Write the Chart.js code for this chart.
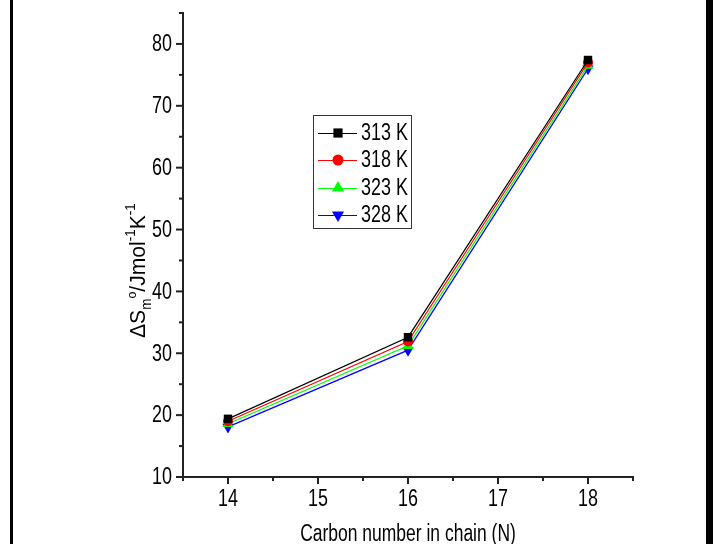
<!DOCTYPE html>
<html>
<head>
<meta charset="utf-8">
<script src="https://cdn.jsdelivr.net/npm/chart.js@4.4.0/dist/chart.umd.min.js"></script>
<style>
  html, body { margin: 0; padding: 0; background: #fff; }
  #wrap { width: 713px; height: 544px; }
</style>
</head>
<body>
<div id="wrap"><canvas id="grafentropia" width="713" height="544"></canvas></div>
<script>
// carbon number vs. entropy of micellization at four temperatures
var carbonNumbers = [14, 16, 18];
var temperaturas = ["313 K", "318 K", "323 K", "328 K"];
var s313 = [19.4, 32.6, 77.4];
var s318 = [19.0, 31.9, 77.0];
var s323 = [18.6, 31.2, 76.5];
var s328 = [18.1, 30.5, 76.0];

var xTicks = [14, 15, 16, 17, 18];
var yTicks = [10, 20, 30, 40, 50, 60, 70, 80];

var FONT = "'Liberation Sans', Arial, sans-serif";

var colores = ["#000000", "#ff0000", "#00ff00", "#0000ff"];
var estilos = ["rect", "circle", "triangle", "triangle"];
var rotaciones = [0, 0, 0, 180];
var radios = [6, 5, 6.5, 6.5];
var series = [s313, s318, s323, s328];

var datasets = [];
for (var i in series){
    var pts = [];
    for (var j in carbonNumbers){
        pts.push({x: carbonNumbers[j], y: series[i][j]});
    }
    datasets.push({
        label: temperaturas[i],
        data: pts,
        borderColor: colores[i],
        backgroundColor: colores[i],
        borderWidth: 1.2,
        pointStyle: estilos[i],
        pointRotation: rotaciones[i],
        pointRadius: radios[i],
        pointBorderWidth: 0,
        tension: 0
    });
}

// narrow text: Arial squeezed horizontally
function textoAngosto(ctx, txt, x, y, size, align, base, escala){
    ctx.save();
    ctx.translate(x, y);
    ctx.scale(escala, 1);
    ctx.font = size + "px " + FONT;
    ctx.textAlign = align;
    ctx.textBaseline = base;
    ctx.fillStyle = "#000";
    ctx.fillText(txt, 0, 0);
    ctx.restore();
}

// ticks: major with label, minor half-way between
function dibujarTicks(chart){
    var ctx = chart.ctx;
    ctx.save();
    ctx.strokeStyle = "#222";
    ctx.lineWidth = 2;
    var sx = chart.scales.x, sy = chart.scales.y;
    sx.ticks.forEach(function(t){
        var px = sx.getPixelForValue(t.value);
        var mayor = xTicks.indexOf(t.value) >= 0;
        ctx.beginPath();
        ctx.moveTo(px, sx.top);
        ctx.lineTo(px, sx.top + (mayor ? 7 : 4));
        ctx.stroke();
        if (mayor) textoAngosto(ctx, String(t.value), px, 500, 23, "center", "middle", 0.78);
    });
    sy.ticks.forEach(function(t){
        var py = sy.getPixelForValue(t.value);
        var mayor = yTicks.indexOf(t.value) >= 0;
        ctx.beginPath();
        ctx.moveTo(sy.right, py);
        ctx.lineTo(sy.right - (mayor ? 7 : 4), py);
        ctx.stroke();
        if (mayor) textoAngosto(ctx, String(t.value), sy.right - 11, py + 1, 23, "right", "middle", 0.78);
    });
    ctx.restore();
}

// y title with sub/superscripts, rotated
function dibujarTituloY(chart){
    var ctx = chart.ctx;
    var partes = [
        ["\u0394S", 0, 22],
        ["m", 6, 14],
        ["o", -9, 13],
        ["/Jmol", 0, 22],
        ["-1", -10, 14],
        ["K", 0, 22],
        ["-1", -10, 14]
    ];
    ctx.save();
    ctx.translate(145, 338);
    ctx.rotate(-Math.PI / 2);
    ctx.scale(0.96, 1);
    ctx.fillStyle = "#000";
    ctx.textBaseline = "alphabetic";
    var x = 0;
    partes.forEach(function(p){
        ctx.font = p[2] + "px " + FONT;
        ctx.fillText(p[0], x, p[1]);
        x += ctx.measureText(p[0]).width;
    });
    ctx.restore();
}

function dibujarLeyenda(chart){
    var ctx = chart.ctx;
    ctx.save();
    ctx.strokeStyle = "#333";
    ctx.lineWidth = 1;
    ctx.strokeRect(313.5, 115.5, 98, 113);
    var filas = [133, 160, 188, 215];
    chart.data.datasets.forEach(function(ds, k){
        var y = filas[k];
        ctx.strokeStyle = ds.borderColor;
        ctx.beginPath();
        ctx.moveTo(318, y + 0.5);
        ctx.lineTo(357, y + 0.5);
        ctx.stroke();
        ctx.fillStyle = ds.backgroundColor;
        Chart.helpers.drawPoint(ctx, {
            pointStyle: ds.pointStyle,
            rotation: ds.pointRotation,
            radius: ds.pointRadius + 0.5,
            borderWidth: 0
        }, 338, y);
        textoAngosto(ctx, ds.label, 361, y + 1, 23, "left", "middle", 0.78);
    });
    ctx.restore();
}

var extras = {
    id: "extras",
    beforeDraw: function(chart){
        var ctx = chart.ctx;
        ctx.save();
        ctx.fillStyle = "#fff";
        ctx.fillRect(0, 0, chart.width, chart.height);
        ctx.restore();
    },
    afterDraw: function(chart){
        dibujarTicks(chart);
        dibujarTituloY(chart);
        dibujarLeyenda(chart);
        textoAngosto(chart.ctx, "Carbon number in chain (N)", 408, 541, 23, "center", "alphabetic", 0.76);
        var ctx = chart.ctx;
        ctx.save();
        ctx.fillStyle = "#000";
        ctx.fillRect(10, 0, 3, chart.height);
        ctx.fillRect(706, 0, 7, chart.height);
        ctx.restore();
    }
};

var lineChart = new Chart(document.getElementById("grafentropia"), {
    type: "line",
    data: { datasets: datasets },
    options: {
        responsive: false,
        animation: false,
        layout: { padding: { top: 13, right: 80, left: 0, bottom: 0 } },
        plugins: { legend: { display: false }, tooltip: { enabled: false } },
        scales: {
            x: {
                type: "linear",
                min: 13.5,
                max: 18.5,
                afterBuildTicks: function(s){
                    var t = [];
                    for (var v = 13.5; v <= 18.5; v += 0.5) t.push({value: v});
                    s.ticks = t;
                },
                afterFit: function(s){ s.height = 67; },
                grid: { display: false },
                border: { display: true, color: "#222", width: 2 },
                ticks: { display: false }
            },
            y: {
                min: 10,
                max: 85,
                afterBuildTicks: function(s){
                    var t = [];
                    for (var v = 10; v <= 85; v += 5) t.push({value: v});
                    s.ticks = t;
                },
                afterFit: function(s){ s.width = 183; },
                grid: { display: false },
                border: { display: true, color: "#222", width: 2 },
                ticks: { display: false }
            }
        }
    },
    plugins: [extras]
});
</script>
</body>
</html>
